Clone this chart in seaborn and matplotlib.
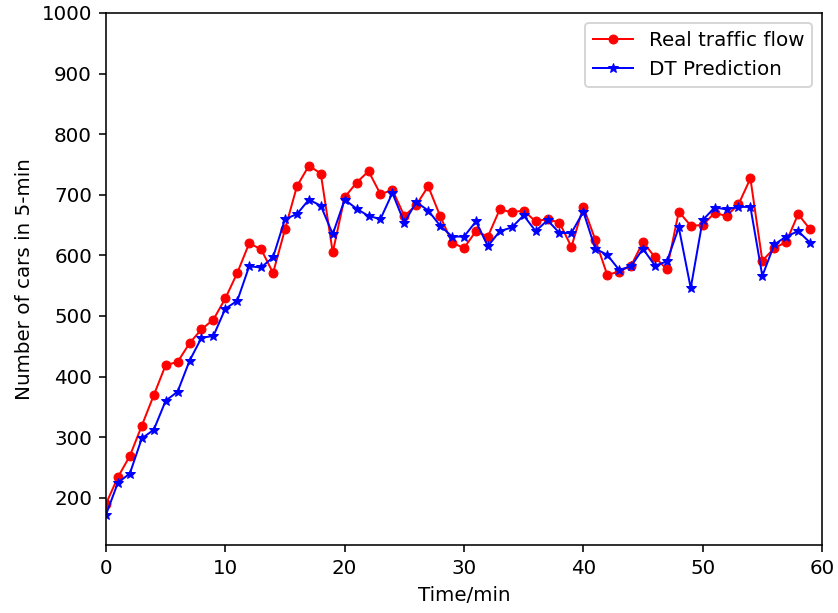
import numpy as np
import matplotlib
matplotlib.use("Agg")
import matplotlib.pyplot as plt
import seaborn as sns

# traffic flow, one value per minute
minutes = np.arange(60)
real_flow = [190, 234, 269, 319, 369, 419, 424, 455, 478, 494,
             529, 571, 620, 610, 571, 643, 714, 748, 735, 605,
             696, 720, 739, 701, 708, 665, 683, 714, 665, 621,
             612, 640, 631, 676, 671, 674, 656, 660, 654, 614,
             680, 626, 568, 573, 583, 622, 597, 577, 672, 649,
             650, 670, 665, 684, 727, 591, 612, 622, 668, 643]
dt_pred = [172, 225, 240, 298, 312, 360, 375, 426, 464, 467,
           512, 525, 582, 580, 597, 660, 668, 692, 682, 635,
           692, 677, 665, 660, 703, 654, 688, 674, 649, 631,
           631, 656, 615, 640, 646, 666, 640, 658, 637, 637,
           672, 611, 601, 576, 582, 611, 583, 590, 646, 546,
           658, 679, 676, 680, 680, 566, 618, 631, 640, 621]

dpi = 143
fig = plt.figure(figsize=(838 / dpi, 613 / dpi), dpi=dpi)
ax = fig.add_axes([106 / 838, 1 - 545 / 613, 716 / 838, 532 / 613])

sns.lineplot(x=minutes, y=real_flow, ax=ax, color="red", marker="o",
             markersize=4.5, markeredgecolor="red", markeredgewidth=0.5,
             linewidth=1, label="Real traffic flow")
sns.lineplot(x=minutes, y=dt_pred, ax=ax, color="blue", marker="*",
             markersize=5.5, markeredgecolor="blue", markeredgewidth=0.5,
             linewidth=1, label="DT Prediction")

ax.set_xlim(0, 60)
ax.set_ylim(122, 1000)
ax.set_yticks(range(200, 1001, 100))
ax.set_xlabel("Time/min")
ax.set_ylabel("Number of cars in 5-min")
ax.legend(loc="upper right")

fig.savefig("out.png", dpi=dpi)
